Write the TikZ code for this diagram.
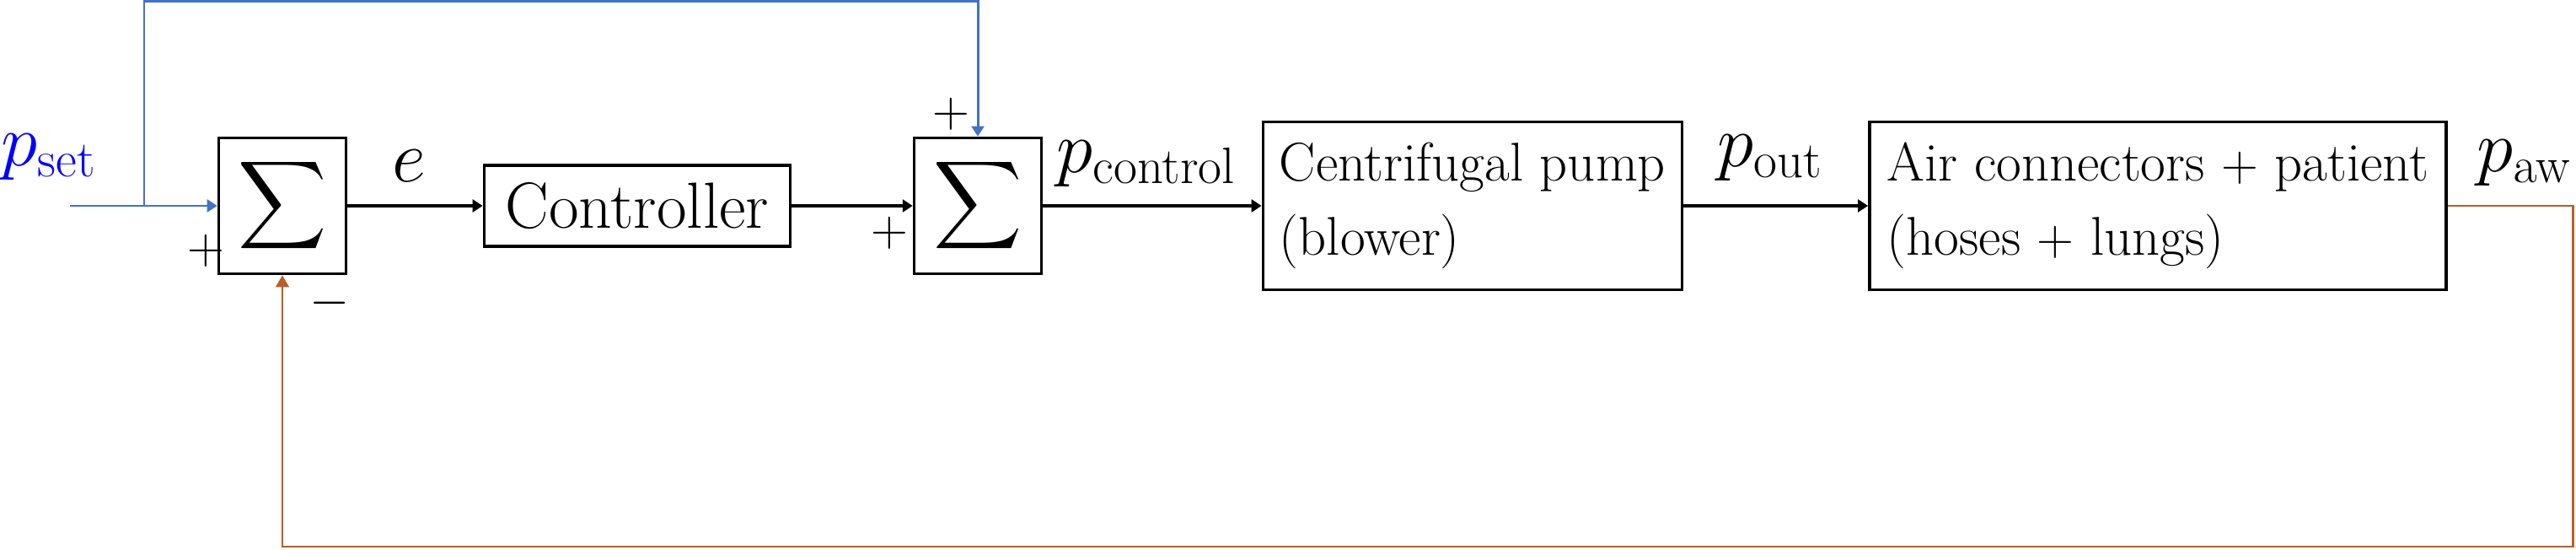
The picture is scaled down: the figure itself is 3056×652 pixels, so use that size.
\documentclass[tikz,border=0pt]{standalone}
\usepackage{amsmath}
\usetikzlibrary{arrows.meta}
\definecolor{fbblue}{RGB}{68,114,196}
\definecolor{fborange}{RGB}{185,95,40}
\definecolor{setblue}{RGB}{0,0,255}
\begin{document}
\begin{tikzpicture}[x=0.01cm,y=-0.01cm,
  blk/.style={draw, line width=1pt, inner sep=0pt},
  sumbox/.style={blk, minimum width=1.51cm, minimum height=1.61cm, font=\fontsize{20}{24}\selectfont},
  ctrlbox/.style={blk, minimum width=3.63cm, minimum height=0.96cm, font=\fontsize{22}{26}\selectfont},
  plantbox/.style={blk, minimum height=1.99cm, align=left, font=\fontsize{18.4}{25}\selectfont},
  lbl/.style={inner sep=0pt, font=\fontsize{25.5}{30}\selectfont},
  sgn/.style={inner sep=0pt, font=\fontsize{18.5}{22}\selectfont},
  sig/.style={line width=1pt, -{Triangle[length=3.4pt,width=4.2pt]}},
  bsig/.style={line width=0.85pt, fbblue, -{Triangle[length=3.4pt,width=4.2pt]}},
  osig/.style={line width=0.85pt, fborange, -{Triangle[length=4pt,width=4.4pt]}}
]
\useasboundingbox (0,0) rectangle (3056,652);

% blocks
\node[sumbox] (sum1) at (335,244) {$\displaystyle\sum$};
\node[ctrlbox] (ctrl) at (756,244) {Controller};
\node[sumbox] (sum2) at (1160,244) {$\displaystyle\sum$};
\node[plantbox, minimum width=4.97cm] (pump) at (1747,244) {Centrifugal pump\\(blower)};
\node[plantbox, minimum width=6.84cm] (air) at (2560,244) {Air connectors $+$ patient\\(hoses $+$ lungs)};

% labels
\node[lbl, text=setblue] (pset) at (58,186) {$p_{\mathrm{set}}$};
\node[lbl] (le) at (485,197) {$e$};
\node[lbl] (lpc) at (1360,194) {$p_{\mathrm{control}}$};
\node[lbl] (lpo) at (2100,187) {$p_{\mathrm{out}}$};
\node[lbl] (lpa) at (2995,193) {$p_{\mathrm{aw}}$};

% signs
\node[sgn] (s1p) at (244,297) {$+$};
\node[sgn] (s1m) at (391,359) {$-$};
\node[sgn] (s2t) at (1128,135) {$+$};
\node[sgn] (s2l) at (1055,276) {$+$};

% coordinates
\coordinate (in) at (83,244);
\coordinate (br) at (171,244);
\coordinate (top) at (171,2);
\coordinate (ocorner) at (3052,648);

% main path
\draw[sig] (sum1) -- (ctrl);
\draw[sig] (ctrl) -- (sum2);
\draw[sig] (sum2) -- (pump);
\draw[sig] (pump) -- (air);

% feedforward (blue)
\draw[bsig] (in) -- (sum1.west);
\draw[bsig] (br) -- (top) -| (sum2.north);

% feedback (orange)
\draw[osig] (air.east) -| (ocorner) -| (sum1.south);
\end{tikzpicture}
\end{document}
